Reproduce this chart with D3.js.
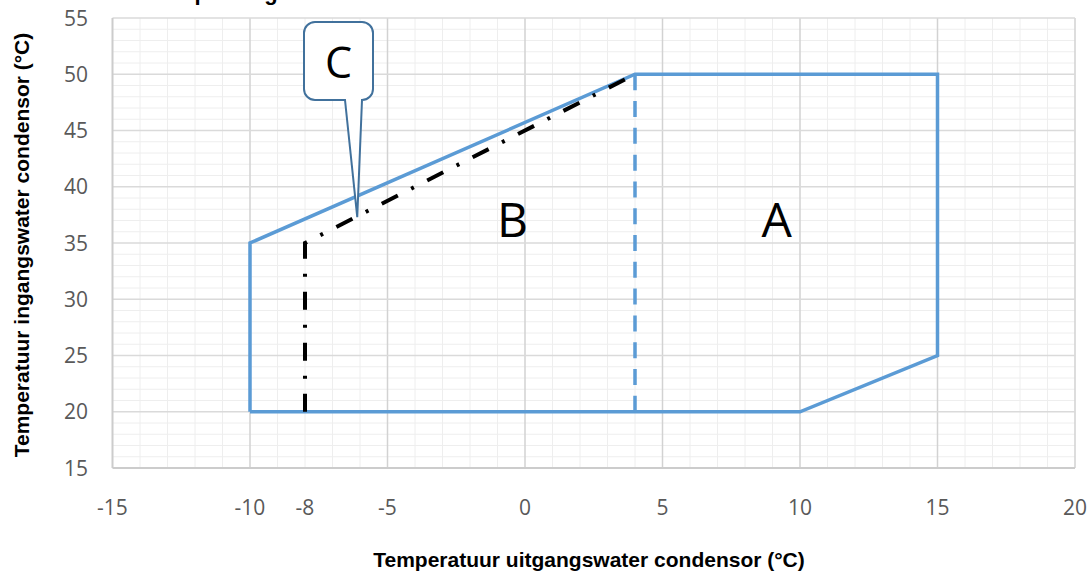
<!DOCTYPE html>
<html>
<head>
<meta charset="utf-8">
<script src="https://cdn.jsdelivr.net/npm/d3@7"></script>
<style>
  html, body { margin: 0; padding: 0; background: #ffffff; }
  svg { display: block; }
</style>
</head>
<body>
<svg id="chart" width="1092" height="577"></svg>
<script>
// ---- data ----
const titleText = "Toepassingsbereik";
const xTitle = "Temperatuur uitgangswater condensor (°C)";
const yTitle = "Temperatuur ingangswater condensor (°C)";
const xTickValues = [-15, -10, -8, -5, 0, 5, 10, 15, 20];
const yTickValues = [15, 20, 25, 30, 35, 40, 45, 50, 55];
// Envelope A+B (solid blue)
const outerX = [-10, -10, 4, 15, 15, 10, -10];
const outerY = [20, 35, 50, 50, 25, 20, 20];
// A/B boundary (dashed blue)
const splitX = [4, 4];
const splitY = [50, 20];
// Region C (black dash-dot)
const cX = [-8, -8, 4];
const cY = [20, 35, 50];
// region labels
const regionNames = ["B", "A"];
const regionX = [-0.45, 9.15];
const regionY = [35.5, 35.5];
// callout C
const calloutText = "C";
const calloutTip = [-6.1, 37.3];

// ---- layout ----
const svg = d3.select("#chart");
const x = d3.scaleLinear().domain([-15, 20]).range([112.5, 1075]);
const y = d3.scaleLinear().domain([15, 55]).range([468, 18]);

const g = svg.append("g");

// minor grid
g.selectAll("line.minx").data(d3.range(-15, 21, 1).filter(v => v % 5 !== 0))
  .join("line").attr("x1", d => x(d)).attr("x2", d => x(d))
  .attr("y1", y(15)).attr("y2", y(55))
  .attr("stroke", "#eeeeee").attr("stroke-width", 1);
g.selectAll("line.miny").data(d3.range(15, 56, 1).filter(v => v % 5 !== 0))
  .join("line").attr("y1", d => y(d)).attr("y2", d => y(d))
  .attr("x1", x(-15)).attr("x2", x(20))
  .attr("stroke", "#eeeeee").attr("stroke-width", 1);
// major grid
g.selectAll("line.majx").data(d3.range(-10, 21, 5))
  .join("line").attr("x1", d => x(d)).attr("x2", d => x(d))
  .attr("y1", y(15)).attr("y2", y(55))
  .attr("stroke", "#d2d2d2").attr("stroke-width", 1.5);
g.selectAll("line.majy").data(d3.range(20, 56, 5))
  .join("line").attr("y1", d => y(d)).attr("y2", d => y(d))
  .attr("x1", x(-15)).attr("x2", x(20))
  .attr("stroke", "#dadada").attr("stroke-width", 1.5);
// axes lines
g.append("line").attr("x1", x(-15)).attr("x2", x(20)).attr("y1", y(15)).attr("y2", y(15))
  .attr("stroke", "#cccccc").attr("stroke-width", 2);
g.append("line").attr("x1", x(-15)).attr("x2", x(-15)).attr("y1", y(15)).attr("y2", y(55))
  .attr("stroke", "#cccccc").attr("stroke-width", 2);

// tick labels
const tickFont = "'Open Sans', 'Liberation Sans', sans-serif";
g.selectAll("text.xt").data(xTickValues).join("text")
  .attr("x", d => x(d)).attr("y", 515)
  .attr("text-anchor", "middle")
  .attr("font-family", tickFont).attr("font-size", 21).attr("fill", "#595959")
  .text(d => d);
g.selectAll("text.yt").data(yTickValues).join("text")
  .attr("x", 88).attr("y", d => y(d) + 7.5)
  .attr("text-anchor", "end")
  .attr("font-family", tickFont).attr("font-size", 21).attr("fill", "#595959")
  .text(d => d);

// axis titles
svg.append("text").attr("x", 589).attr("y", 567)
  .attr("text-anchor", "middle")
  .attr("font-family", "'Liberation Sans', Arial, sans-serif")
  .attr("font-weight", "bold").attr("font-size", 21).attr("fill", "#000")
  .text(xTitle);
svg.append("text")
  .attr("transform", "translate(29,245) rotate(-90)")
  .attr("text-anchor", "middle")
  .attr("font-family", "'Liberation Sans', Arial, sans-serif")
  .attr("font-weight", "bold").attr("font-size", 21).attr("fill", "#000")
  .text(yTitle);

// cut-off title (only its descenders show at the top edge, as in the source)
svg.append("text").attr("x", 157).attr("y", -0.5)
  .attr("font-family", "'Liberation Sans', Arial, sans-serif")
  .attr("font-weight", "bold").attr("font-size", 22).attr("fill", "#000")
  .text(titleText);

const line = d3.line().x(d => x(d[0])).y(d => y(d[1]));

// dashed split (drawn bottom to top so both ends carry a dash)
const splitLen = Math.abs(y(splitY[1]) - y(splitY[0]));
const dash = 16, gap = (splitLen - dash) / 12 - dash;
g.append("path").datum(d3.zip(splitX, splitY)).attr("d", line)
  .attr("fill", "none").attr("stroke", "#5b9bd5").attr("stroke-width", 3.5)
  .attr("stroke-dasharray", dash + "," + gap);
// outer envelope
g.append("path").datum(d3.zip(outerX, outerY)).attr("d", line)
  .attr("fill", "none").attr("stroke", "#5b9bd5").attr("stroke-width", 3.5)
  .attr("stroke-linejoin", "miter");
// region C
g.append("path").datum(d3.zip(cX, cY)).attr("d", line)
  .attr("fill", "none").attr("stroke", "#000").attr("stroke-width", 4)
  .attr("stroke-dasharray", "18,15,3,15");

// region labels
g.selectAll("text.reg").data(regionNames).join("text")
  .attr("x", (d, i) => x(regionX[i])).attr("y", (d, i) => y(regionY[i]))
  .attr("text-anchor", "middle")
  .attr("font-family", "'Open Sans', 'Liberation Sans', sans-serif")
  .attr("font-size", 48).attr("fill", "#000")
  .text(d => d);

// callout
const bx0 = 304, bx1 = 373, by0 = 22, by1 = 100, r = 11;
const tx = x(calloutTip[0]), ty = y(calloutTip[1]);
const pA = 345, pB = 362;
const cp = d3.path();
cp.moveTo(bx0 + r, by0);
cp.lineTo(bx1 - r, by0);
cp.arcTo(bx1, by0, bx1, by0 + r, r);
cp.lineTo(bx1, by1 - r);
cp.arcTo(bx1, by1, bx1 - r, by1, r);
cp.lineTo(pB, by1);
cp.lineTo(tx, ty);
cp.lineTo(pA, by1);
cp.lineTo(bx0 + r, by1);
cp.arcTo(bx0, by1, bx0, by1 - r, r);
cp.lineTo(bx0, by0 + r);
cp.arcTo(bx0, by0, bx0 + r, by0, r);
cp.closePath();
g.append("path").attr("d", cp.toString())
  .attr("fill", "#ffffff").attr("stroke", "#41719c").attr("stroke-width", 2);
g.append("text").attr("x", (bx0 + bx1) / 2).attr("y", 78)
  .attr("text-anchor", "middle")
  .attr("font-family", "'Open Sans', 'Liberation Sans', sans-serif")
  .attr("font-size", 43).attr("fill", "#000")
  .text(calloutText);
</script>
</body>
</html>
